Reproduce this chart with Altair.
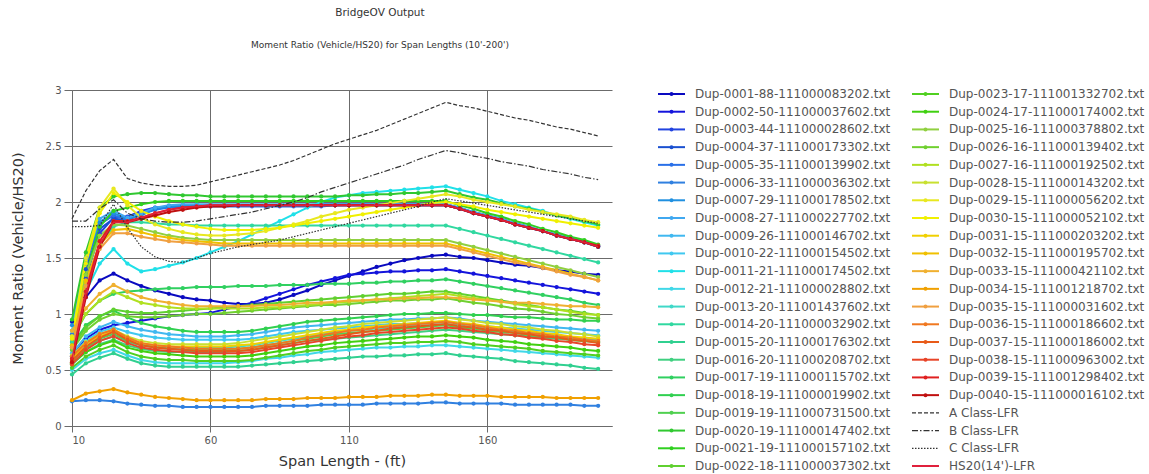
import altair as alt
import pandas as pd

FONT = "DejaVu Sans"

spans = [10, 15, 20, 25, 30, 35, 40, 45, 50, 55,
         60, 65, 70, 75, 80, 85, 90, 95, 100, 105,
         110, 115, 120, 125, 130, 135, 140, 145, 150, 155,
         160, 165, 170, 175, 180, 185, 190, 195, 200]

series_names = [
    "Dup-0001-88-111000083202.txt", "Dup-0002-50-111000037602.txt", "Dup-0003-44-111000028602.txt",
    "Dup-0004-37-111000173302.txt", "Dup-0005-35-111000139902.txt", "Dup-0006-33-111000036302.txt",
    "Dup-0007-29-111000178502.txt", "Dup-0008-27-111000227702.txt", "Dup-0009-26-111000146702.txt",
    "Dup-0010-22-111000154502.txt", "Dup-0011-21-111000174502.txt", "Dup-0012-21-111000028802.txt",
    "Dup-0013-20-111001437602.txt", "Dup-0014-20-111000032902.txt", "Dup-0015-20-111000176302.txt",
    "Dup-0016-20-111000208702.txt", "Dup-0017-19-111000115702.txt", "Dup-0018-19-111000019902.txt",
    "Dup-0019-19-111000731500.txt", "Dup-0020-19-111000147402.txt", "Dup-0021-19-111000157102.txt",
    "Dup-0022-18-111000037302.txt", "Dup-0023-17-111001332702.txt", "Dup-0024-17-111000174002.txt",
    "Dup-0025-16-111000378802.txt", "Dup-0026-16-111000139402.txt", "Dup-0027-16-111000192502.txt",
    "Dup-0028-15-111000143202.txt", "Dup-0029-15-111000056202.txt", "Dup-0030-15-111000052102.txt",
    "Dup-0031-15-111000203202.txt", "Dup-0032-15-111000195702.txt", "Dup-0033-15-111000421102.txt",
    "Dup-0034-15-111001218702.txt", "Dup-0035-15-111000031602.txt", "Dup-0036-15-111000186602.txt",
    "Dup-0037-15-111000186002.txt", "Dup-0038-15-111000963002.txt", "Dup-0039-15-111001298402.txt",
    "Dup-0040-15-111000016102.txt",
]

series_colors = [
    "#0a0ac0", "#1414dc", "#2244e0", "#1a50d0", "#2a70e8", "#3080e0", "#2090e0", "#40a8f0",
    "#40b8f0", "#40c8f0", "#20e0e8", "#40d8e8", "#40d8c8", "#30d8a0", "#30d090", "#40d080",
    "#30d060", "#30d050", "#50d050", "#30c830", "#30d020", "#60d030", "#50d020", "#40d010",
    "#90d040", "#70d030", "#b0e020", "#c8e030", "#e8e820", "#f0f000", "#f0d000", "#f0c000",
    "#f0b030", "#f0a000", "#f0a040", "#f07820", "#e85a18", "#e84428", "#e02020", "#c01010",
]

ref_names = ["A Class-LFR", "B Class-LFR", "C Class-LFR", "HS20(14')-LFR"]

s01 = [0.93, 1.15, 1.30, 1.36, 1.30, 1.25, 1.21, 1.18, 1.15, 1.13,
       1.12, 1.10, 1.09, 1.09, 1.10, 1.13, 1.17, 1.21, 1.26, 1.30,
       1.34, 1.38, 1.42, 1.45, 1.48, 1.50, 1.52, 1.53, 1.51, 1.50,
       1.48, 1.46, 1.44, 1.43, 1.41, 1.39, 1.38, 1.36, 1.35]
s02 = [0.62, 0.78, 0.86, 0.90, 0.92, 0.94, 0.96, 0.98, 0.99, 1.00,
       1.01, 1.04, 1.07, 1.10, 1.14, 1.18, 1.22, 1.26, 1.29, 1.32,
       1.35, 1.36, 1.37, 1.38, 1.38, 1.39, 1.39, 1.40, 1.38, 1.36,
       1.34, 1.32, 1.30, 1.28, 1.26, 1.24, 1.22, 1.20, 1.18]
s03 = [0.68, 1.32, 1.72, 1.86, 1.87, 1.92, 1.95, 1.96, 1.97, 1.97,
       1.97, 1.97, 1.97, 1.97, 1.97, 1.97, 1.97, 1.97, 1.98, 1.98,
       1.98, 1.98, 1.98, 1.98, 1.98, 1.98, 1.98, 1.98, 1.95, 1.91,
       1.88, 1.85, 1.81, 1.78, 1.74, 1.71, 1.68, 1.64, 1.61]
s04 = [0.75, 1.40, 1.76, 1.85, 1.84, 1.90, 1.94, 1.96, 1.96, 1.97,
       1.97, 1.97, 1.97, 1.97, 1.97, 1.97, 1.97, 1.97, 1.97, 1.97,
       1.97, 1.97, 1.97, 1.97, 1.97, 1.97, 1.97, 1.97, 1.94, 1.90,
       1.87, 1.84, 1.80, 1.77, 1.74, 1.70, 1.67, 1.64, 1.60]
s05 = [0.82, 1.45, 1.80, 1.88, 1.84, 1.89, 1.93, 1.95, 1.96, 1.96,
       1.96, 1.96, 1.96, 1.96, 1.96, 1.96, 1.96, 1.96, 1.96, 1.97,
       1.97, 1.97, 1.97, 1.97, 1.97, 1.97, 1.97, 1.97, 1.94, 1.90,
       1.87, 1.84, 1.80, 1.77, 1.74, 1.70, 1.67, 1.64, 1.60]
s06 = [0.22, 0.23, 0.23, 0.22, 0.20, 0.19, 0.18, 0.18, 0.17, 0.17,
       0.17, 0.17, 0.17, 0.17, 0.18, 0.18, 0.18, 0.18, 0.19, 0.19,
       0.19, 0.19, 0.20, 0.20, 0.20, 0.20, 0.21, 0.21, 0.20, 0.20,
       0.20, 0.20, 0.19, 0.19, 0.19, 0.19, 0.19, 0.18, 0.18]
s07 = [0.90, 1.50, 1.82, 1.90, 1.85, 1.88, 1.94, 1.96, 1.97, 1.97,
       1.97, 1.97, 1.97, 1.97, 1.97, 1.97, 1.97, 1.97, 1.97, 1.97,
       1.97, 1.97, 1.97, 1.97, 1.97, 1.97, 1.97, 1.97, 1.94, 1.90,
       1.87, 1.84, 1.80, 1.77, 1.74, 1.70, 1.67, 1.64, 1.60]
s08 = [0.85, 1.50, 1.85, 1.92, 1.86, 1.90, 1.95, 1.97, 1.98, 1.98,
       1.98, 1.98, 1.98, 1.98, 1.98, 1.98, 1.98, 1.98, 1.98, 1.98,
       1.98, 1.98, 1.98, 1.98, 1.98, 1.98, 1.98, 1.98, 1.95, 1.91,
       1.88, 1.85, 1.81, 1.78, 1.74, 1.71, 1.68, 1.64, 1.61]
s09 = [0.65, 0.80, 0.88, 0.93, 0.89, 0.86, 0.84, 0.82, 0.81, 0.80,
       0.80, 0.80, 0.81, 0.82, 0.84, 0.86, 0.88, 0.89, 0.90, 0.91,
       0.92, 0.93, 0.94, 0.95, 0.95, 0.96, 0.96, 0.97, 0.96, 0.94,
       0.93, 0.92, 0.91, 0.90, 0.89, 0.88, 0.87, 0.86, 0.85]
s10 = [0.62, 0.76, 0.84, 0.88, 0.84, 0.81, 0.79, 0.78, 0.77, 0.77,
       0.77, 0.77, 0.77, 0.78, 0.80, 0.82, 0.84, 0.85, 0.86, 0.87,
       0.88, 0.89, 0.90, 0.91, 0.91, 0.92, 0.92, 0.93, 0.92, 0.90,
       0.89, 0.88, 0.87, 0.86, 0.85, 0.84, 0.83, 0.82, 0.81]
s11 = [0.85, 1.20, 1.45, 1.58, 1.45, 1.38, 1.40, 1.43, 1.46, 1.50,
       1.55, 1.60, 1.65, 1.71, 1.77, 1.83, 1.89, 1.95, 2.00, 2.04,
       2.06, 2.08, 2.09, 2.10, 2.11, 2.12, 2.13, 2.14, 2.11, 2.08,
       2.05, 2.01, 1.98, 1.95, 1.92, 1.88, 1.85, 1.82, 1.79]
s12 = [0.50, 0.60, 0.65, 0.68, 0.63, 0.59, 0.57, 0.56, 0.56, 0.56,
       0.56, 0.56, 0.57, 0.58, 0.60, 0.61, 0.63, 0.64, 0.66, 0.67,
       0.68, 0.69, 0.70, 0.70, 0.71, 0.71, 0.72, 0.72, 0.71, 0.70,
       0.69, 0.68, 0.67, 0.66, 0.65, 0.64, 0.63, 0.62, 0.61]
s13 = [0.60, 0.70, 0.76, 0.80, 0.75, 0.72, 0.71, 0.70, 0.70, 0.70,
       0.70, 0.70, 0.71, 0.72, 0.74, 0.76, 0.78, 0.80, 0.82, 0.84,
       0.85, 0.86, 0.87, 0.88, 0.89, 0.90, 0.90, 0.91, 0.90, 0.88,
       0.87, 0.86, 0.84, 0.83, 0.82, 0.81, 0.79, 0.78, 0.77]
s14 = [0.75, 1.25, 1.62, 1.78, 1.82, 1.82, 1.81, 1.80, 1.80, 1.79,
       1.79, 1.79, 1.79, 1.79, 1.79, 1.79, 1.79, 1.79, 1.79, 1.79,
       1.79, 1.79, 1.79, 1.79, 1.79, 1.79, 1.79, 1.79, 1.76, 1.73,
       1.70, 1.67, 1.64, 1.61, 1.58, 1.55, 1.52, 1.49, 1.46]
s15 = [0.46, 0.56, 0.61, 0.65, 0.60, 0.56, 0.54, 0.53, 0.53, 0.53,
       0.53, 0.53, 0.53, 0.54, 0.55, 0.56, 0.57, 0.58, 0.59, 0.60,
       0.61, 0.62, 0.62, 0.63, 0.63, 0.64, 0.64, 0.65, 0.63, 0.62,
       0.61, 0.60, 0.58, 0.57, 0.56, 0.55, 0.54, 0.52, 0.51]
s16 = [0.55, 0.66, 0.73, 0.77, 0.72, 0.69, 0.67, 0.66, 0.66, 0.66,
       0.66, 0.66, 0.67, 0.68, 0.70, 0.72, 0.74, 0.76, 0.77, 0.78,
       0.79, 0.80, 0.81, 0.82, 0.83, 0.84, 0.85, 0.86, 0.85, 0.84,
       0.83, 0.82, 0.81, 0.80, 0.79, 0.78, 0.77, 0.76, 0.75]
s17 = [0.78, 1.00, 1.12, 1.18, 1.20, 1.21, 1.22, 1.23, 1.23, 1.24,
       1.24, 1.24, 1.25, 1.25, 1.25, 1.26, 1.26, 1.26, 1.27, 1.27,
       1.27, 1.28, 1.28, 1.29, 1.29, 1.30, 1.30, 1.31, 1.29, 1.27,
       1.25, 1.23, 1.21, 1.19, 1.17, 1.15, 1.13, 1.10, 1.08]
s18 = [0.72, 0.90, 0.98, 1.03, 0.97, 0.92, 0.89, 0.87, 0.85, 0.84,
       0.84, 0.84, 0.84, 0.85, 0.87, 0.89, 0.91, 0.93, 0.94, 0.95,
       0.96, 0.97, 0.98, 0.99, 1.00, 1.00, 1.01, 1.01, 1.00, 0.99,
       0.99, 0.98, 0.97, 0.97, 0.96, 0.95, 0.95, 0.94, 0.94]
s19 = [0.58, 0.70, 0.78, 0.82, 0.76, 0.72, 0.70, 0.69, 0.68, 0.68,
       0.68, 0.68, 0.69, 0.70, 0.72, 0.74, 0.76, 0.78, 0.80, 0.82,
       0.83, 0.84, 0.85, 0.86, 0.87, 0.88, 0.89, 0.90, 0.88, 0.87,
       0.85, 0.84, 0.83, 0.81, 0.80, 0.79, 0.77, 0.76, 0.75]
s20 = [0.95, 1.55, 1.95, 2.05, 2.07, 2.08, 2.08, 2.07, 2.06, 2.06,
       2.05, 2.05, 2.05, 2.05, 2.05, 2.05, 2.05, 2.05, 2.05, 2.05,
       2.06, 2.06, 2.07, 2.07, 2.08, 2.08, 2.09, 2.10, 2.07, 2.04,
       2.02, 1.99, 1.96, 1.94, 1.91, 1.88, 1.86, 1.83, 1.80]
s21 = [0.70, 1.35, 1.78, 1.92, 1.95, 1.98, 2.00, 2.01, 2.01, 2.01,
       2.01, 2.01, 2.01, 2.01, 2.01, 2.01, 2.01, 2.01, 2.01, 2.01,
       2.01, 2.01, 2.01, 2.01, 2.01, 2.01, 2.01, 2.01, 1.97, 1.94,
       1.90, 1.87, 1.83, 1.80, 1.76, 1.73, 1.69, 1.66, 1.62]
s22 = [0.70, 0.88, 0.98, 1.04, 1.02, 1.01, 1.01, 1.02, 1.03, 1.04,
       1.05, 1.06, 1.07, 1.08, 1.09, 1.10, 1.11, 1.12, 1.13, 1.14,
       1.15, 1.16, 1.17, 1.18, 1.18, 1.19, 1.20, 1.20, 1.18, 1.16,
       1.14, 1.12, 1.10, 1.08, 1.06, 1.04, 1.03, 1.01, 0.99]
s23 = [0.52, 0.62, 0.68, 0.72, 0.66, 0.62, 0.60, 0.59, 0.59, 0.58,
       0.58, 0.58, 0.58, 0.59, 0.61, 0.63, 0.65, 0.67, 0.68, 0.70,
       0.71, 0.72, 0.73, 0.74, 0.74, 0.75, 0.75, 0.76, 0.75, 0.73,
       0.72, 0.71, 0.70, 0.69, 0.67, 0.66, 0.65, 0.64, 0.63]
s24 = [0.56, 0.66, 0.72, 0.76, 0.70, 0.67, 0.65, 0.64, 0.63, 0.62,
       0.62, 0.62, 0.62, 0.63, 0.65, 0.67, 0.69, 0.71, 0.72, 0.74,
       0.75, 0.76, 0.77, 0.78, 0.79, 0.80, 0.80, 0.81, 0.80, 0.79,
       0.77, 0.76, 0.75, 0.73, 0.72, 0.71, 0.70, 0.68, 0.67]
s25 = [0.78, 1.35, 1.70, 1.80, 1.79, 1.76, 1.73, 1.70, 1.68, 1.67,
       1.66, 1.66, 1.66, 1.66, 1.66, 1.66, 1.66, 1.66, 1.66, 1.66,
       1.66, 1.66, 1.66, 1.66, 1.66, 1.66, 1.66, 1.66, 1.63, 1.60,
       1.57, 1.54, 1.51, 1.48, 1.45, 1.42, 1.39, 1.36, 1.33]
s26 = [0.68, 0.85, 0.95, 1.00, 0.98, 0.97, 0.97, 0.98, 0.99, 1.00,
       1.00, 1.01, 1.02, 1.03, 1.04, 1.05, 1.06, 1.07, 1.08, 1.08,
       1.09, 1.10, 1.11, 1.12, 1.12, 1.13, 1.13, 1.14, 1.12, 1.10,
       1.09, 1.07, 1.05, 1.04, 1.02, 1.00, 0.99, 0.97, 0.96]
s27 = [0.80, 1.00, 1.12, 1.20, 1.15, 1.10, 1.08, 1.06, 1.05, 1.05,
       1.05, 1.05, 1.05, 1.05, 1.06, 1.06, 1.07, 1.08, 1.09, 1.10,
       1.11, 1.12, 1.13, 1.14, 1.15, 1.16, 1.17, 1.18, 1.16, 1.14,
       1.13, 1.11, 1.09, 1.07, 1.06, 1.04, 1.02, 1.00, 0.99]
s28 = [0.63, 0.75, 0.82, 0.86, 0.80, 0.76, 0.74, 0.73, 0.73, 0.73,
       0.73, 0.73, 0.74, 0.76, 0.78, 0.80, 0.82, 0.84, 0.86, 0.88,
       0.89, 0.91, 0.92, 0.93, 0.94, 0.95, 0.96, 0.97, 0.95, 0.94,
       0.92, 0.91, 0.89, 0.88, 0.86, 0.85, 0.83, 0.82, 0.80]
s29 = [0.80, 1.50, 1.95, 2.12, 1.97, 1.86, 1.80, 1.76, 1.73, 1.71,
       1.70, 1.70, 1.71, 1.72, 1.74, 1.77, 1.80, 1.83, 1.87, 1.90,
       1.93, 1.95, 1.97, 1.99, 2.01, 2.03, 2.05, 2.07, 2.05, 2.02,
       2.00, 1.98, 1.96, 1.93, 1.91, 1.89, 1.87, 1.84, 1.82]
s30 = [0.78, 1.45, 1.90, 2.08, 2.00, 1.92, 1.87, 1.83, 1.80, 1.78,
       1.76, 1.75, 1.75, 1.75, 1.76, 1.77, 1.79, 1.81, 1.83, 1.85,
       1.87, 1.89, 1.91, 1.93, 1.95, 1.97, 1.99, 2.00, 1.98, 1.96,
       1.93, 1.91, 1.89, 1.87, 1.85, 1.83, 1.81, 1.79, 1.77]
s31 = [0.60, 0.73, 0.80, 0.85, 0.78, 0.74, 0.72, 0.71, 0.71, 0.71,
       0.71, 0.71, 0.72, 0.73, 0.75, 0.77, 0.79, 0.81, 0.83, 0.85,
       0.86, 0.88, 0.89, 0.90, 0.91, 0.92, 0.93, 0.94, 0.92, 0.91,
       0.89, 0.88, 0.86, 0.85, 0.83, 0.82, 0.80, 0.79, 0.78]
s32 = [0.72, 1.30, 1.62, 1.75, 1.76, 1.73, 1.70, 1.68, 1.66, 1.65,
       1.64, 1.63, 1.63, 1.63, 1.63, 1.63, 1.63, 1.63, 1.63, 1.63,
       1.63, 1.63, 1.63, 1.63, 1.63, 1.63, 1.63, 1.63, 1.60, 1.57,
       1.54, 1.51, 1.48, 1.45, 1.42, 1.39, 1.36, 1.33, 1.30]
s33 = [0.85, 1.05, 1.18, 1.26, 1.20, 1.15, 1.12, 1.10, 1.08, 1.07,
       1.07, 1.07, 1.07, 1.07, 1.08, 1.08, 1.09, 1.10, 1.10, 1.11,
       1.12, 1.12, 1.13, 1.13, 1.14, 1.14, 1.15, 1.15, 1.14, 1.13,
       1.12, 1.11, 1.10, 1.10, 1.09, 1.08, 1.07, 1.07, 1.06]
s34 = [0.23, 0.29, 0.31, 0.33, 0.30, 0.28, 0.26, 0.25, 0.24, 0.23,
       0.23, 0.23, 0.23, 0.23, 0.24, 0.24, 0.24, 0.25, 0.25, 0.25,
       0.26, 0.26, 0.26, 0.27, 0.27, 0.27, 0.28, 0.28, 0.27, 0.27,
       0.27, 0.26, 0.26, 0.26, 0.26, 0.25, 0.25, 0.25, 0.25]
s35 = [0.70, 1.25, 1.58, 1.72, 1.72, 1.69, 1.67, 1.65, 1.64, 1.63,
       1.62, 1.61, 1.61, 1.61, 1.61, 1.61, 1.61, 1.61, 1.61, 1.61,
       1.61, 1.61, 1.61, 1.61, 1.61, 1.61, 1.61, 1.61, 1.58, 1.55,
       1.52, 1.49, 1.46, 1.44, 1.41, 1.38, 1.35, 1.33, 1.30]
s36 = [0.62, 0.74, 0.82, 0.86, 0.79, 0.74, 0.72, 0.71, 0.70, 0.69,
       0.69, 0.69, 0.69, 0.70, 0.72, 0.74, 0.76, 0.79, 0.81, 0.83,
       0.85, 0.86, 0.88, 0.89, 0.90, 0.91, 0.92, 0.93, 0.91, 0.90,
       0.88, 0.86, 0.85, 0.83, 0.82, 0.80, 0.79, 0.77, 0.76]
s37 = [0.58, 0.71, 0.79, 0.84, 0.77, 0.72, 0.70, 0.69, 0.68, 0.67,
       0.67, 0.67, 0.67, 0.68, 0.70, 0.72, 0.74, 0.76, 0.78, 0.80,
       0.82, 0.84, 0.85, 0.87, 0.88, 0.89, 0.90, 0.91, 0.89, 0.88,
       0.86, 0.85, 0.83, 0.82, 0.80, 0.79, 0.77, 0.76, 0.74]
s38 = [0.55, 0.68, 0.76, 0.80, 0.74, 0.70, 0.68, 0.67, 0.66, 0.65,
       0.65, 0.65, 0.65, 0.66, 0.68, 0.70, 0.72, 0.74, 0.76, 0.78,
       0.80, 0.81, 0.83, 0.84, 0.85, 0.86, 0.87, 0.88, 0.87, 0.85,
       0.84, 0.82, 0.81, 0.79, 0.78, 0.76, 0.75, 0.73, 0.72]
s39 = [0.60, 1.20, 1.65, 1.83, 1.83, 1.86, 1.90, 1.93, 1.95, 1.96,
       1.97, 1.97, 1.97, 1.97, 1.97, 1.97, 1.97, 1.97, 1.97, 1.97,
       1.97, 1.97, 1.97, 1.97, 1.97, 1.97, 1.97, 1.97, 1.94, 1.90,
       1.87, 1.84, 1.80, 1.77, 1.74, 1.70, 1.67, 1.64, 1.61]
s40 = [0.57, 1.15, 1.60, 1.82, 1.82, 1.85, 1.88, 1.91, 1.93, 1.95,
       1.96, 1.96, 1.97, 1.97, 1.97, 1.97, 1.97, 1.97, 1.97, 1.97,
       1.97, 1.97, 1.97, 1.97, 1.97, 1.97, 1.97, 1.97, 1.94, 1.90,
       1.87, 1.84, 1.80, 1.77, 1.74, 1.70, 1.67, 1.64, 1.60]

a_class = [1.85, 2.10, 2.28, 2.38, 2.21, 2.17, 2.15, 2.14, 2.14, 2.15,
           2.18, 2.21, 2.24, 2.27, 2.30, 2.33, 2.37, 2.42, 2.47, 2.52,
           2.56, 2.60, 2.64, 2.69, 2.74, 2.79, 2.84, 2.89, 2.86, 2.84,
           2.81, 2.78, 2.75, 2.73, 2.70, 2.67, 2.65, 2.62, 2.59]
b_class = [1.83, 1.83, 1.94, 2.02, 1.90, 1.85, 1.83, 1.82, 1.82, 1.83,
           1.85, 1.87, 1.89, 1.91, 1.94, 1.97, 2.00, 2.04, 2.09, 2.13,
           2.17, 2.21, 2.25, 2.29, 2.33, 2.38, 2.42, 2.46, 2.44, 2.41,
           2.39, 2.36, 2.34, 2.32, 2.29, 2.27, 2.25, 2.22, 2.20]
c_class = [1.78, 1.78, 1.79, 1.98, 1.77, 1.60, 1.51, 1.47, 1.46, 1.50,
           1.54, 1.57, 1.60, 1.62, 1.64, 1.66, 1.69, 1.72, 1.75, 1.78,
           1.81, 1.84, 1.87, 1.90, 1.93, 1.96, 2.00, 2.03, 2.01, 1.99,
           1.97, 1.95, 1.93, 1.91, 1.89, 1.87, 1.85, 1.83, 1.81]
hs20_lfr = [0.60, 1.18, 1.62, 1.82, 1.82, 1.86, 1.90, 1.93, 1.95, 1.96,
            1.97, 1.97, 1.97, 1.97, 1.97, 1.97, 1.97, 1.97, 1.97, 1.97,
            1.97, 1.97, 1.97, 1.97, 1.97, 1.97, 1.97, 1.97, 1.94, 1.90,
            1.87, 1.84, 1.80, 1.77, 1.74, 1.70, 1.67, 1.64, 1.60]

dup_values = [s01, s02, s03, s04, s05, s06, s07, s08, s09, s10,
              s11, s12, s13, s14, s15, s16, s17, s18, s19, s20,
              s21, s22, s23, s24, s25, s26, s27, s28, s29, s30,
              s31, s32, s33, s34, s35, s36, s37, s38, s39, s40]
ref_values = [a_class, b_class, c_class, hs20_lfr]

# ---------- tables ----------
dup_rows = []
for name, vals in zip(series_names, dup_values):
    for s, v in zip(spans, vals):
        dup_rows.append({"series": name, "span": s, "ratio": v})
dup_df = pd.DataFrame(dup_rows)

ref_rows = []
for name, vals in zip(ref_names, ref_values):
    for s, v in zip(spans, vals):
        ref_rows.append({"series": name, "span": s, "ratio": v})
ref_df = pd.DataFrame(ref_rows)

# ---------- main plot ----------
x_scale = alt.Scale(domain=[10, 205], nice=False, zero=False)
y_scale = alt.Scale(domain=[0, 3], nice=False, zero=True)

x_enc = alt.X("span:Q", scale=x_scale,
              axis=alt.Axis(values=[10, 60, 110, 160], title="Span Length - (ft)",
                            grid=True, tickSize=6, labelPadding=3, titlePadding=9))
y_enc = alt.Y("ratio:Q", scale=y_scale,
              axis=alt.Axis(values=[0, 0.5, 1, 1.5, 2, 2.5, 3], format=".1~f",
                            title="Moment Ratio (Vehicle/HS20)", grid=True,
                            tickSize=8, labelPadding=3, titlePadding=20))
color_enc = alt.Color("series:N", scale=alt.Scale(domain=series_names, range=series_colors),
                      legend=None)

lines = alt.Chart(dup_df).mark_line(strokeWidth=2).encode(
    x=x_enc, y=y_enc, color=color_enc, detail="series:N")
points = alt.Chart(dup_df).mark_circle(size=18, opacity=1).encode(
    x=x_enc, y=y_enc, color=color_enc)

def ref_layer(name, color, dash=None, width=1.2):
    kw = dict(color=color, strokeWidth=width)
    if dash is not None:
        kw["strokeDash"] = dash
    return alt.Chart(ref_df).transform_filter(alt.datum.series == name).mark_line(**kw).encode(
        x=alt.X("span:Q", scale=x_scale), y=alt.Y("ratio:Q", scale=y_scale))

ref_a = ref_layer("A Class-LFR", "#333333", [4, 2])
ref_b = ref_layer("B Class-LFR", "#333333", [6, 2, 1.5, 2])
ref_c = ref_layer("C Class-LFR", "#333333", [1.5, 1.5])
ref_h = ref_layer("HS20(14')-LFR", "#e0203c", None, 1.5)

plot = alt.layer(lines, points, ref_h, ref_a, ref_b, ref_c).properties(
    width=540, height=336,
    title=alt.Title(
        text="BridgeOV Output",
        subtitle="Moment Ratio (Vehicle/HS20) for Span Lengths (10'-200')",
        font=FONT, fontSize=10.5, fontWeight="normal", color="#333333",
        subtitleFont=FONT, subtitleFontSize=9, subtitleColor="#333333",
        subtitlePadding=23, offset=35, anchor="middle", dx=38,
    ),
)

# ---------- legend panel ----------
all_names = series_names + ref_names
all_colors = series_colors + ["#333333", "#333333", "#333333", "#e0203c"]
kinds = ["dup"] * len(series_names) + ["A", "B", "C", "HS"]
leg_rows = []
for i, (nm, colr, kd) in enumerate(zip(all_names, all_colors, kinds)):
    col = 0 if i < 22 else 1
    row = i % 22
    sx = 36 if col == 0 else 290
    ex = sx + 27
    leg_rows.append({"label": nm, "color": colr, "kind": kd, "row": row,
                     "sx": sx, "ex": ex, "mx": (sx + ex) / 2, "tx": ex + 10})
leg_df = pd.DataFrame(leg_rows)

lx = alt.Scale(domain=[0, 500], nice=False, zero=False)
ly = alt.Scale(domain=[-0.226, 21.226], reverse=True, nice=False, zero=False)

base = alt.Chart(leg_df)
leg_solid = base.transform_filter(
    (alt.datum.kind == "dup") | (alt.datum.kind == "HS")
).mark_rule(strokeWidth=2).encode(
    x=alt.X("sx:Q", scale=lx, axis=None), x2="ex:Q",
    y=alt.Y("row:Q", scale=ly, axis=None),
    color=alt.Color("color:N", scale=None))
leg_mark = base.transform_filter(alt.datum.kind == "dup").mark_circle(size=16, opacity=1).encode(
    x=alt.X("mx:Q", scale=lx, axis=None), y=alt.Y("row:Q", scale=ly, axis=None),
    color=alt.Color("color:N", scale=None))

def leg_dash(kind, dash):
    return base.transform_filter(alt.datum.kind == kind).mark_rule(
        strokeWidth=1.2, color="#333333", strokeDash=dash).encode(
        x=alt.X("sx:Q", scale=lx, axis=None), x2="ex:Q",
        y=alt.Y("row:Q", scale=ly, axis=None))

leg_text = base.mark_text(align="left", baseline="middle", font=FONT, fontSize=12,
                          color="#555555").encode(
    x=alt.X("tx:Q", scale=lx, axis=None), y=alt.Y("row:Q", scale=ly, axis=None),
    text="label:N")

legend = alt.layer(leg_solid, leg_mark, leg_dash("A", [4, 2]), leg_dash("B", [6, 2, 1.5, 2]),
                   leg_dash("C", [1.5, 1.5]), leg_text).properties(width=500, height=380)

chart = alt.hconcat(plot, legend, spacing=10).resolve_scale(
    x="independent", y="independent", color="independent"
).configure(
    padding={"left": 10, "top": 7, "right": 2, "bottom": 2}, font=FONT
).configure_view(stroke=None).configure_axis(
    gridColor="#6b6b6b", gridOpacity=1, gridWidth=1,
    domainColor="#6b6b6b", tickColor="#6b6b6b",
    labelColor="#555555", labelFont=FONT, labelFontSize=10,
    titleFont=FONT, titleFontSize=14.5, titleFontWeight="normal", titleColor="#333333",
)

chart.save("out.html", embed_options={"renderer": "svg", "actions": False})
